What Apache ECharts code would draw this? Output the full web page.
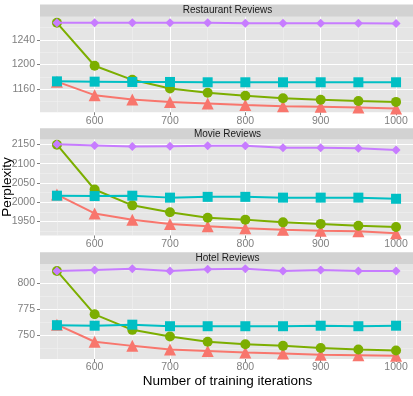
<!DOCTYPE html>
<html>
<head>
<meta charset="utf-8">
<script src="https://cdn.jsdelivr.net/npm/echarts@6/dist/echarts.min.js"></script>
<style>
  html, body { margin: 0; padding: 0; background: #fff; }
  #chart { width: 413px; height: 396px; }
</style>
</head>
<body>
<div id="chart"></div>
<script>
const iterations = [550, 600, 650, 700, 750, 800, 850, 900, 950, 1000]
const xTicks = [600, 700, 800, 900, 1000]
const xMinorTicks = [550, 650, 750, 850, 950]

const facetNames = ['Restaurant Reviews', 'Movie Reviews', 'Hotel Reviews']

// series per facet: red/triangle, green/circle, teal/square, purple/diamond
const restaurantRed = [1172, 1150, 1143, 1139, 1136.5, 1134, 1132, 1131, 1130, 1128]
const restaurantGreen = [1268, 1198, 1175, 1161, 1154, 1149, 1145, 1142.5, 1140.5, 1139]
const restaurantTeal = [1172.5, 1172, 1171.5, 1171.5, 1171, 1171, 1171, 1171, 1171, 1171]
const restaurantPurple = [1268, 1268, 1268, 1268, 1268, 1267.5, 1267.5, 1267.5, 1267.5, 1267]

const movieRed = [2020, 1971, 1955, 1944, 1938, 1933, 1929, 1926, 1925, 1920]
const movieGreen = [2149, 2033, 1992, 1974, 1960, 1955, 1948, 1944, 1939, 1936]
const movieTeal = [2017, 2016, 2017, 2012, 2014, 2014, 2012, 2012, 2012, 2009]
const moviePurple = [2150, 2147, 2144, 2145, 2146, 2146, 2141, 2141, 2140, 2135]

const hotelRed = [760, 743.5, 739.5, 736, 734.5, 733, 732, 731, 730.5, 730]
const hotelGreen = [812, 770, 755, 748.5, 743.5, 741, 739.5, 737.5, 736, 735]
const hotelTeal = [759.5, 759, 760, 758.5, 758.5, 758.5, 758.5, 759, 758.5, 759]
const hotelPurple = [812, 813, 814, 812, 813.5, 814, 812, 813, 812, 812]

const restaurantTicks = [1160, 1200, 1240]
const restaurantMinor = [1140, 1180, 1220, 1260]
const movieTicks = [1950, 2000, 2050, 2100, 2150]
const movieMinor = [1925, 1975, 2025, 2075, 2125]
const hotelTicks = [750, 775, 800]
const hotelMinor = [737.5, 762.5, 787.5, 812.5]

const facetSeries = [
  [restaurantRed, restaurantGreen, restaurantTeal, restaurantPurple],
  [movieRed, movieGreen, movieTeal, moviePurple],
  [hotelRed, hotelGreen, hotelTeal, hotelPurple]
]
const facetTicks = [restaurantTicks, movieTicks, hotelTicks]
const facetMinor = [restaurantMinor, movieMinor, hotelMinor]
const facetRanges = [[1122, 1278], [1914, 2162.4], [726.8, 818.4]]

// layout
const panelLeft = 40
const panelWidth = 375
const panels = [
  { top: 16.7, height: 95.6, strip: 4.5 },
  { top: 139.5, height: 96, strip: 128.3 },
  { top: 264.3, height: 94.7, strip: 252.3 }
]

const colors = ['#F8766D', '#7CAE00', '#00BFC4', '#C77CFF']
const symbols = ['triangle', 'circle', 'rect', 'diamond']
const symbolSizes = [12, 10, 10, 9]

const font = 'Liberation Sans, Arial, sans-serif'
const chart = echarts.init(document.getElementById('chart'))

const grid = panels.map(p => ({
  left: panelLeft, top: p.top, width: panelWidth, height: p.height,
  show: true, backgroundColor: '#E5E5E5', borderWidth: 0, containLabel: false
}))

const plain = v => String(v)
const xRange = [527.5, 1022.5]
const xAxis = []
const yAxis = []
panels.forEach((p, i) => {
  xAxis.push({
    type: 'value', gridIndex: i, min: xRange[0], max: xRange[1],
    axisLine: { show: false },
    axisTick: { show: true, length: 3, customValues: xTicks, lineStyle: { color: '#7F7F7F' } },
    axisLabel: { customValues: xTicks, formatter: plain, color: '#7F7F7F', fontSize: 10.5, fontFamily: font, margin: 3 },
    splitLine: { show: true, lineStyle: { color: '#FFFFFF', width: 1 } }
  })
  yAxis.push({
    type: 'value', gridIndex: i, min: facetRanges[i][0], max: facetRanges[i][1],
    axisLine: { show: false },
    axisTick: { show: true, length: 3, customValues: facetTicks[i], lineStyle: { color: '#7F7F7F' } },
    axisLabel: { customValues: facetTicks[i], formatter: plain, color: '#7F7F7F', fontSize: 10.5, fontFamily: font, margin: 5 },
    splitLine: { show: true, lineStyle: { color: '#FFFFFF', width: 1 } }
  })
})
panels.forEach((p, i) => {
  xAxis.push({
    type: 'value', gridIndex: i, min: xRange[0], max: xRange[1],
    axisLine: { show: false }, axisLabel: { show: false },
    axisTick: { show: false, customValues: xMinorTicks },
    splitLine: { show: true, lineStyle: { color: '#F2F2F2', width: 0.5 } }
  })
  yAxis.push({
    type: 'value', gridIndex: i, position: 'left', min: facetRanges[i][0], max: facetRanges[i][1],
    axisLine: { show: false }, axisLabel: { show: false },
    axisTick: { show: false, customValues: facetMinor[i] },
    splitLine: { show: true, lineStyle: { color: '#F2F2F2', width: 0.5 } }
  })
})

const series = []
facetSeries.forEach((group, i) => {
  group.forEach((values, k) => {
    series.push({
      type: 'line',
      xAxisIndex: i,
      yAxisIndex: i,
      data: values.map((v, j) => [iterations[j], v]),
      symbol: symbols[k],
      symbolSize: symbolSizes[k],
      showAllSymbol: true,
      color: colors[k],
      lineStyle: { width: 2, color: colors[k] },
      itemStyle: { color: colors[k], opacity: 1 },
      z: 2 + k,
      animation: false
    })
  })
})

const graphic = []
panels.forEach((p, i) => {
  graphic.push({
    type: 'rect',
    shape: { x: panelLeft, y: p.strip, width: panelWidth, height: p.top - p.strip },
    style: { fill: '#D2D2D2' }
  })
  graphic.push({
    type: 'text',
    x: panelLeft + panelWidth / 2,
    y: (p.strip + p.top) / 2,
    style: {
      text: facetNames[i], fill: '#1A1A1A', font: '10px ' + font,
      align: 'center', verticalAlign: 'middle'
    }
  })
})
graphic.push({
  type: 'text', x: 7, y: 187, rotation: Math.PI / 2,
  style: {
    text: 'Perplexity', fill: '#000', font: '13.5px ' + font,
    align: 'center', verticalAlign: 'middle'
  }
})
graphic.push({
  type: 'text', x: 227.5, y: 381,
  style: {
    text: 'Number of training iterations', fill: '#000', font: '13.5px ' + font,
    align: 'center', verticalAlign: 'middle'
  }
})

chart.setOption({
  animation: false,
  grid: grid,
  xAxis: xAxis,
  yAxis: yAxis,
  series: series,
  graphic: graphic
})
</script>
</body>
</html>
